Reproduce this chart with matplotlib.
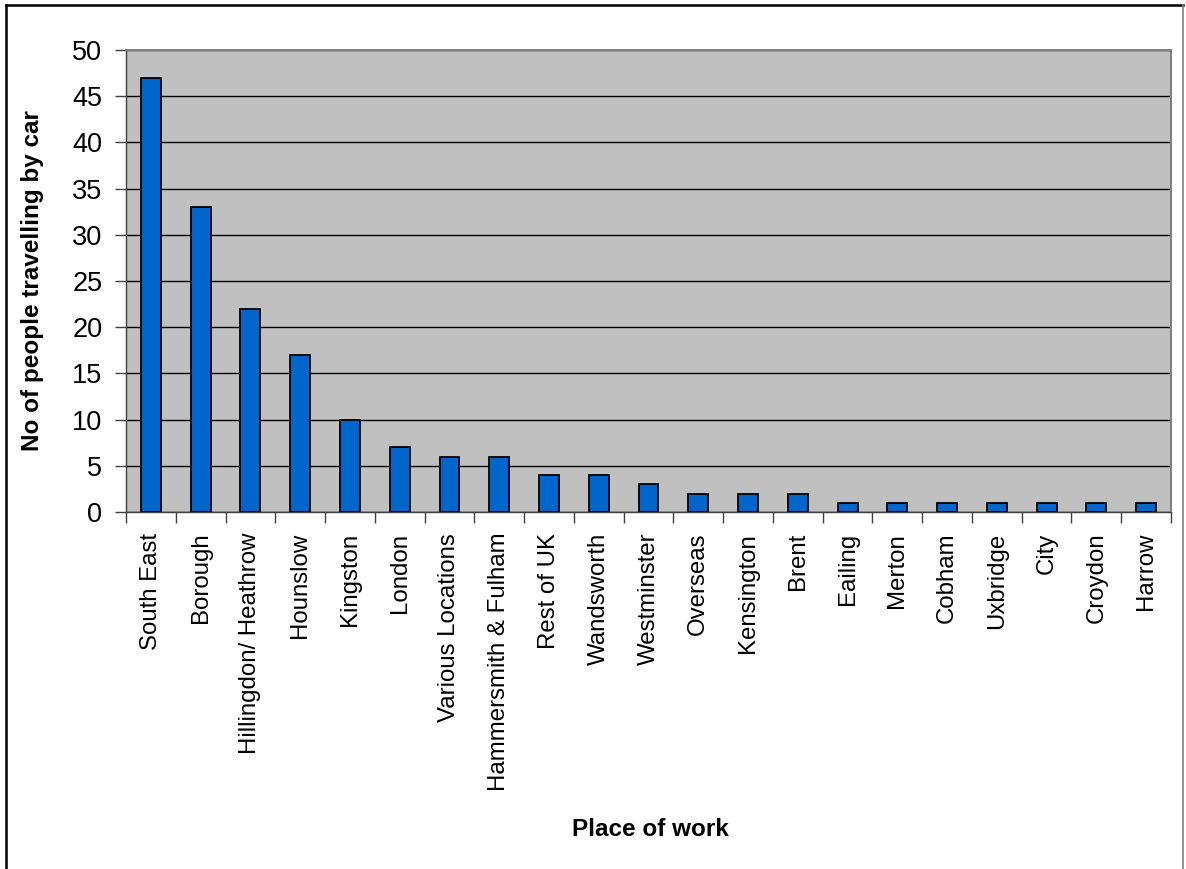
import matplotlib
matplotlib.use("Agg")
import matplotlib.pyplot as plt
from matplotlib.lines import Line2D

places = ["South East", "Borough", "Hillingdon/ Heathrow", "Hounslow", "Kingston",
          "London", "Various Locations", "Hammersmith & Fulham", "Rest of UK",
          "Wandsworth", "Westminster", "Overseas", "Kensington", "Brent", "Eailing",
          "Merton", "Cobham", "Uxbridge", "City", "Croydon", "Harrow"]
people_by_car = [47, 33, 22, 17, 10, 7, 6, 6, 4, 4, 3, 2, 2, 2, 1, 1, 1, 1, 1, 1, 1]
y_ticks = [0, 5, 10, 15, 20, 25, 30, 35, 40, 45, 50]

plt.rcParams["font.family"] = ["Liberation Sans", "DejaVu Sans"]

fig = plt.figure(figsize=(11.86, 8.69), dpi=100)
ax = fig.add_axes([126 / 1186, 1 - 512 / 869, (1171 - 126) / 1186, (512 - 50) / 869])
ax.set_facecolor("#C0C0C0")

n = len(places)
xs = list(range(n))
ax.bar(xs, people_by_car, width=0.4, color="#0066CC", edgecolor="black",
       linewidth=1.3, zorder=3)

ax.set_xlim(-0.5, n - 0.5)
ax.set_ylim(0, 50)
ax.set_yticks(y_ticks)
ax.set_yticklabels([str(v) for v in y_ticks], fontsize=19.5)
ax.yaxis.grid(True, color="black", linewidth=1.0, zorder=1)
ax.set_axisbelow(True)

# category labels centred under bars, tick marks between categories
ax.set_xticks(xs)
ax.set_xticklabels(places, rotation=90, fontsize=17.3, va="top", ha="center")
ax.tick_params(axis="x", which="major", length=0, pad=15)
ax.set_xticks([i - 0.5 for i in range(n + 1)], minor=True)
ax.tick_params(axis="x", which="minor", length=8, width=1.0, color="#404040")
ax.tick_params(axis="y", length=8, width=1.0, color="#404040", pad=9)

for side in ["top", "right"]:
    ax.spines[side].set_color("#808080")
    ax.spines[side].set_linewidth(1.5)
for side in ["left", "bottom"]:
    ax.spines[side].set_color("#404040")
    ax.spines[side].set_linewidth(1.0)

ax.set_ylabel("No of people travelling by car", fontsize=17.5, fontweight="bold")
ax.yaxis.set_label_coords(-(126 - 44) / (1171 - 126), 0.5)
fig.text(650 / 1186, 1 - 830 / 869, "Place of work", fontsize=17.5,
         fontweight="bold", ha="center", va="center")

# outer chart frame (left, top, right)
W, H = 1186, 869
fig.add_artist(Line2D([6 / W, 6 / W], [0, 1 - 5 / H], color="black", linewidth=1.8,
                      transform=fig.transFigure))
fig.add_artist(Line2D([6 / W, 1183 / W], [1 - 5 / H, 1 - 5 / H], color="black",
                      linewidth=1.8, transform=fig.transFigure))
fig.add_artist(Line2D([1183 / W, 1183 / W], [0, 1 - 5 / H], color="#808080",
                      linewidth=1.2, transform=fig.transFigure))

fig.savefig("out.png", dpi=100, facecolor="white")
